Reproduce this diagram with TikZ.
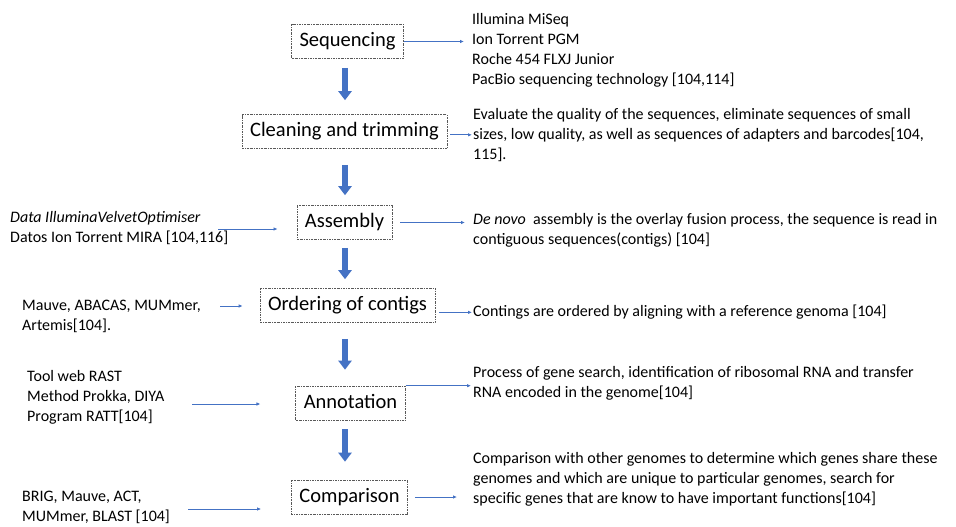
\documentclass[tikz,border=0pt]{standalone}
\usepackage{fontspec}
\setmainfont{Carlito}
\usetikzlibrary{arrows.meta}
\definecolor{flowblue}{HTML}{4472C4}
\tikzset{
  stepbox/.style={draw=gray!70!black, dash pattern=on 2pt off 1pt on 0.6pt off 1pt, line width=0.6pt,
    inner xsep=8pt, minimum height=34pt, text height=14pt, text depth=4pt,
    font=\fontsize{20.5}{24}\selectfont},
  note/.style={align=left, inner sep=0pt, anchor=north west, font=\fontsize{16}{20}\selectfont},
  bigarrow/.style={flowblue, line width=6pt, -{Triangle[length=9pt,width=13pt]}},
  smallarrow/.style={flowblue, line width=0.8pt, -{Latex[length=4pt,width=3.5pt]}}
}
\begin{document}
\begin{tikzpicture}[x=1pt,y=-1pt]
        \useasboundingbox (0,0) rectangle (956,527);
        %fasi
        \node[stepbox] (seq) at (347.5,41.5) {Sequencing};
        \node[stepbox] (clean) at (344.5,131.5) {Cleaning and trimming};
        \node[stepbox] (asm) at (344.5,222.5) {Assembly};
        \node[stepbox] (ord) at (347.5,305.5) {Ordering of contigs};
        \node[stepbox] (ann) at (350.5,403) {Annotation};
        \node[stepbox] (cmp) at (349.5,497) {Comparison};
        %note a destra
        \node[note] (seqnote) at (472,13) {Illumina MiSeq\\Ion Torrent PGM\\Roche 454 FLXJ Junior\\PacBio sequencing technology [104,114]};
        \node[note] (cleannote) at (473,108) {Evaluate the quality of the sequences, eliminate sequences of small\\sizes, low quality, as well as sequences of adapters and barcodes[104,\\115].};
        \node[note] (asmnote) at (473,213) {\textit{De novo}\ \ assembly is the overlay fusion process, the sequence is read in\\contiguous sequences(contigs) [104]};
        \node[note] (ordnote) at (473,305) {Contings are ordered by aligning with a reference genoma [104]};
        \node[note] (annnote) at (473,366) {Process of gene search, identification of ribosomal RNA and transfer\\RNA encoded in the genome[104]};
        \node[note] (cmpnote) at (473,452) {Comparison with other genomes to determine which genes share these\\genomes and which are unique to particular genomes, search for\\specific genes that are know to have important functions[104]};
        %strumenti a sinistra
        \node[note] (asmtools) at (10,211) {\textit{Data IlluminaVelvetOptimiser}\\Datos Ion Torrent MIRA [104,116]};
        \node[note] (ordtools) at (22,300) {Mauve, ABACAS, MUMmer,\\Artemis[104].};
        \node[note] (anntools) at (27,370) {Tool web RAST\\Method Prokka, DIYA\\Program RATT[104]};
        \node[note] (cmptools) at (22,491) {BRIG, Mauve, ACT,\\MUMmer, BLAST [104]};
        % frecce grandi
        \coordinate (spine) at (345,0);
        \draw[bigarrow, shorten <=9pt, shorten >=14pt] (seq.south -| spine) -- (clean.north -| spine);
        \draw[bigarrow, shorten <=16pt, shorten >=10pt] (clean.south -| spine) -- (asm.north -| spine);
        \draw[bigarrow, shorten <=8pt, shorten >=9pt] (asm.south -| spine) -- (ord.north -| spine);
        \draw[bigarrow, shorten <=16pt, shorten >=16pt] (ord.south -| spine) -- (ann.north -| spine);
        \draw[bigarrow, shorten <=9pt, shorten >=18pt] (ann.south -| spine) -- (cmp.north -| spine);
        % frecce verso le note
        \draw[smallarrow, shorten >=8pt] (seq.east) -- (seq.east -| seqnote.west);
        \draw[smallarrow, shorten <=3pt, shorten >=1pt] (clean.east |- cleannote.west) -- (cleannote.west);
        \draw[smallarrow, shorten <=8pt, shorten >=8pt] (asm.east) -- (asm.east -| asmnote.west);
        \draw[smallarrow, shorten <=4pt, shorten >=1pt] (ord.east |- ordnote.west) -- (ordnote.west);
        \draw[smallarrow, shorten >=2pt] (ann.north east) -- (ann.north east -| annnote.west);
        \draw[smallarrow, shorten <=7pt, shorten >=16pt] (cmp.east) -- (cmp.east -| cmpnote.west);
        % frecce dagli strumenti
        \coordinate (asmin) at (218,229);
        \coordinate (ordin) at (220,306);
        \coordinate (annin) at (192,404);
        \coordinate (cmpin) at (188,509);
        \draw[smallarrow, shorten >=19pt] (asmin) -- (asmin -| asm.west);
        \draw[smallarrow, shorten >=17pt] (ordin) -- (ordin -| ord.west);
        \draw[smallarrow, shorten >=35pt] (annin) -- (annin -| ann.west);
        \draw[smallarrow, shorten >=30pt] (cmpin) -- (cmpin -| cmp.west);
\end{tikzpicture}
\end{document}
